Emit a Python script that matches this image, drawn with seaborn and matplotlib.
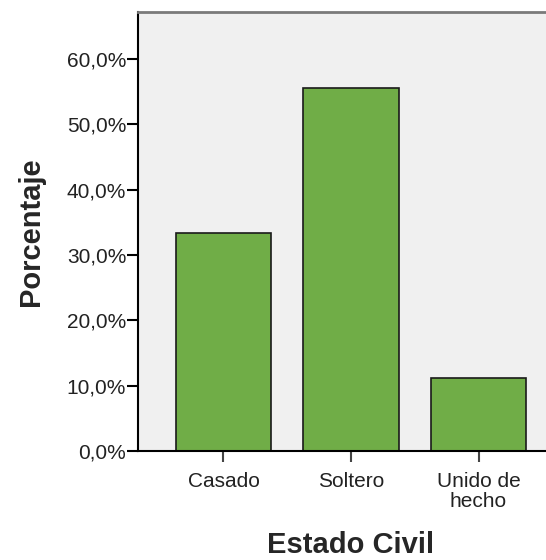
import matplotlib
matplotlib.use('Agg')
import matplotlib.pyplot as plt
import seaborn as sns
import pandas as pd
from matplotlib.ticker import FuncFormatter

# Data
categorias = ['Casado', 'Soltero', 'Unido de\nhecho']
porcentajes = [33.3, 55.6, 11.1]
y_ticks = [0, 10, 20, 30, 40, 50, 60]

df = pd.DataFrame({'estado': categorias, 'pct': porcentajes})

sns.set_style('white')
plt.rcParams['font.family'] = ['Liberation Sans', 'DejaVu Sans']

fig = plt.figure(figsize=(5.46, 5.60), dpi=100)
ax = fig.add_axes([138 / 546, 1 - 451 / 560, (564 - 138) / 546, (451 - 12) / 560])
ax.set_facecolor('#F0F0F0')

sns.barplot(data=df, x='estado', y='pct', color='#70AD47', edgecolor='#1a1a1a',
            linewidth=1.2, width=0.75, saturation=1, ax=ax)

ax.set_xlim(-0.67, 2.67)
ax.set_ylim(0, 67.2)
ax.set_yticks(y_ticks)
ax.yaxis.set_major_formatter(FuncFormatter(lambda v, p: f'{v:.1f}%'.replace('.', ',')))

for s in ['left', 'bottom']:
    ax.spines[s].set_color('black')
    ax.spines[s].set_linewidth(1.5)
ax.spines['top'].set_color('#7a7a7a')
ax.spines['top'].set_linewidth(2)
ax.spines['right'].set_visible(False)

ax.tick_params(axis='y', direction='out', length=8, width=1.5, color='black',
               labelsize=15, labelcolor='#222222', left=True, pad=0.5)
ax.tick_params(axis='x', direction='out', length=8, width=1.5, color='#444444',
               labelsize=15, labelcolor='#222222', bottom=True, pad=7)
for lbl in ax.get_xticklabels():
    lbl.set_linespacing(1.05)

ax.set_xlabel('Estado Civil', fontsize=21, fontweight='bold', labelpad=15)
ax.set_ylabel('Porcentaje', fontsize=21, fontweight='bold', labelpad=16)

fig.savefig('out.png', dpi=100)
